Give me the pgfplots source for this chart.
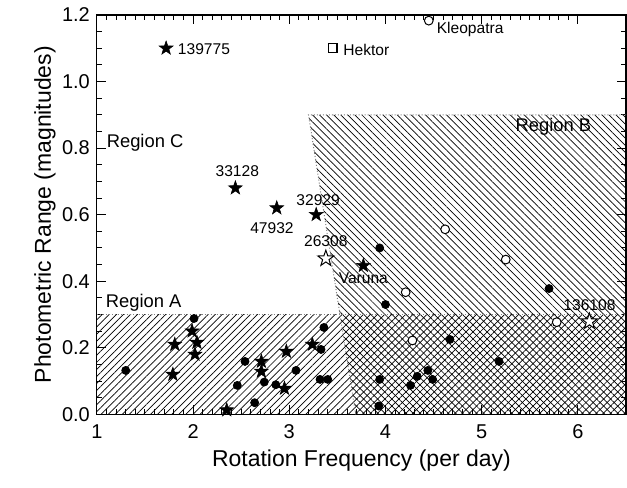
\documentclass[border=0pt]{standalone}
\usepackage{fontspec}
\setmainfont{Liberation Sans}
\usepackage{pgfplots}
\pgfplotsset{compat=1.18}
\usetikzlibrary{patterns.meta,calc}

% filled five-pointed star
\pgfdeclareplotmark{fstar}{%
  \pgfpathmoveto{\pgfpointpolar{90}{\pgfplotmarksize}}%
  \pgfpathlineto{\pgfpointpolar{126}{0.4\pgfplotmarksize}}%
  \pgfpathlineto{\pgfpointpolar{162}{\pgfplotmarksize}}%
  \pgfpathlineto{\pgfpointpolar{198}{0.4\pgfplotmarksize}}%
  \pgfpathlineto{\pgfpointpolar{234}{\pgfplotmarksize}}%
  \pgfpathlineto{\pgfpointpolar{270}{0.4\pgfplotmarksize}}%
  \pgfpathlineto{\pgfpointpolar{306}{\pgfplotmarksize}}%
  \pgfpathlineto{\pgfpointpolar{342}{0.4\pgfplotmarksize}}%
  \pgfpathlineto{\pgfpointpolar{18}{\pgfplotmarksize}}%
  \pgfpathlineto{\pgfpointpolar{54}{0.4\pgfplotmarksize}}%
  \pgfpathclose
  \pgfusepathqfillstroke}

\begin{document}
\begin{tikzpicture}
\begin{axis}[
    scale only axis,
    width=265pt, height=200pt,
    xmin=1, xmax=6.5, ymin=0, ymax=1.2,
    xtick={1,2,3,4,5,6},
    ytick={0,0.2,0.4,0.6,0.8,1.0,1.2},
    minor x tick num=9, minor y tick num=3,
    tick align=inside,
    major tick length=4.5pt, minor tick length=2.5pt,
    tick style={black, line width=0.5pt},
    axis line style={line width=0.6pt},
    /pgf/number format/assume math mode=true,
    yticklabel style={/pgf/number format/fixed, /pgf/number format/fixed zerofill, /pgf/number format/precision=1},
    xticklabel style={yshift=-1.5pt},
    tick label style={font=\fontsize{10}{12}\selectfont},
    label style={font=\fontsize{11.5}{13}\selectfont},
    xlabel={Rotation Frequency (per day)},
    ylabel={Photometric Range (magnitudes)},
    xlabel style={at={(axis description cs:0.5,-0.115)}, anchor=center},
    ylabel style={at={(axis description cs:-0.098,0.5)}, anchor=center},
    clip=false,
]
\coordinate (ll) at (rel axis cs:0,0);
\coordinate (ur) at (rel axis cs:1,1);

% regions
\addplot[draw=none, pattern={Lines[angle=45,distance=2.5pt,line width=0.35pt]}]
  coordinates {(1,0) (1,0.3) (6.5,0.3) (6.5,0)} -- cycle;
\addplot[draw=none, pattern={Lines[angle=-45,distance=2.5pt,line width=0.35pt]}]
  coordinates {(3.69,0) (3.2,0.9) (6.5,0.9) (6.5,0)} -- cycle;
\addplot[densely dotted, gray, line width=0.5pt] coordinates {(1,0.3) (6.5,0.3)};
\addplot[densely dotted, gray, line width=0.5pt] coordinates {(3.69,0) (3.2,0.9) (6.5,0.9)};

% filled circles
\addplot[only marks, mark=*, mark size=2pt, black] coordinates {
 (1.30,0.132) (2.01,0.288) (2.54,0.159) (2.46,0.087) (2.64,0.035) (2.74,0.097)
 (2.86,0.089) (3.07,0.132) (3.36,0.261) (3.33,0.195) (3.32,0.105) (3.40,0.105)
 (3.94,0.50) (4.00,0.33) (5.70,0.378) (4.67,0.225) (5.18,0.159) (3.94,0.105)
 (4.26,0.087) (4.33,0.114) (4.44,0.132) (4.49,0.105) (3.93,0.025)
};
% open circles
\addplot[only marks, mark=*, mark size=2.2pt, mark options={draw=black, fill=white, line width=0.5pt}] coordinates {
 (4.45,1.183) (4.62,0.556) (5.25,0.465) (4.21,0.367) (4.28,0.222) (5.78,0.277)
};
% filled stars
\addplot[only marks, mark=fstar, mark size=3.6pt, mark options={draw=black, fill=black, line width=0.3pt}] coordinates {
 (1.72,1.10) (2.44,0.68) (2.87,0.62) (3.28,0.60) (3.77,0.447)
 (1.81,0.21) (1.79,0.12) (1.99,0.25) (2.04,0.216) (2.02,0.18) (2.35,0.013)
 (2.71,0.159) (2.71,0.129) (2.97,0.189) (2.95,0.078) (3.24,0.21)
};
% open stars
\addplot[only marks, mark=fstar, mark size=4.2pt, mark options={draw=black, fill=white, line width=0.5pt}] coordinates {
 (3.38,0.468) (6.12,0.279)
};
% open square
\addplot[only marks, mark=square*, mark size=2.2pt, mark options={draw=black, fill=white, line width=0.6pt}] coordinates {
 (3.45,1.10)
};

% labels
\begin{scope}[font=\fontsize{7.8}{9}\selectfont]
\node[anchor=west] at (axis cs:1.77,1.096) {139775};
\node[anchor=west] at (axis cs:3.49,1.096) {Hektor};
\node[anchor=west] at (axis cs:4.46,1.155) {Kleopatra};
\node at (axis cs:2.46,0.73) {33128};
\node at (axis cs:2.82,0.56) {47932};
\node at (axis cs:3.30,0.645) {32929};
\node at (axis cs:3.38,0.52) {26308};
\node at (axis cs:3.77,0.408) {Varuna};
\node at (axis cs:6.12,0.327) {136108};
\end{scope}
\begin{scope}[font=\fontsize{9.2}{11}\selectfont]
\node[anchor=west] at (axis cs:1.03,0.816) {Region C};
\node[anchor=west] at (axis cs:1.02,0.336) {Region A};
\node[anchor=west] at (axis cs:5.28,0.865) {Region B};
\end{scope}
\end{axis}
\pgfresetboundingbox
\path ($(ll)+(-48.5pt,-36.5pt)$) rectangle ($(ur)+(0.5pt,7.5pt)$);
\end{tikzpicture}
\end{document}
